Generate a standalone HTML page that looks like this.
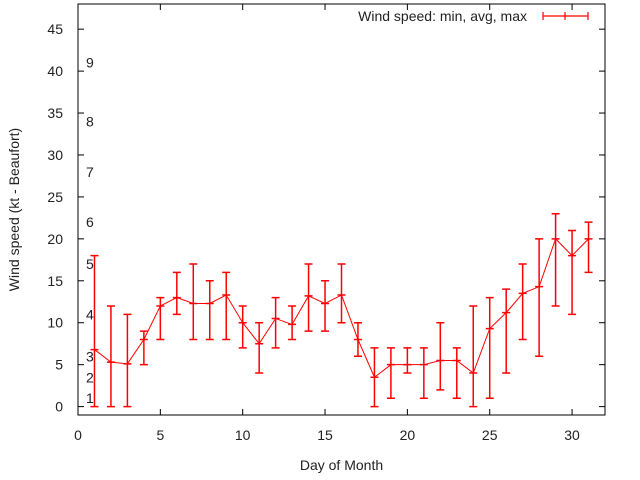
<!DOCTYPE html>
<html><head><meta charset="utf-8"><style>body{margin:0;background:#fff}svg{display:block;font-family:"Liberation Sans",sans-serif}</style></head>
<body>
<svg id="c" width="640" height="480" xmlns="http://www.w3.org/2000/svg"></svg>
<script>
const days=[1,2,3,4,5,6,7,8,9,10,11,12,13,14,15,16,17,18,19,20,21,22,23,24,25,26,27,28,29,30,31];
const avgs=[6.8,5.3,5.1,8,12,13,12.3,12.3,13.3,10,7.5,10.5,9.8,13.2,12.3,13.3,8,3.5,5,5,5,5.5,5.5,4,9.3,11.2,13.5,14.3,20,18,20];
const mins=[0,0,0,5,8,11,8,8,8,7,4,7,8,9,9,10,6,0,1,4,1,2,1,0,1,4,8,6,12,11,16];
const maxs=[18,12,11,9,13,16,17,15,16,12,10,13,12,17,15,17,10,7,7,7,7,10,7,12,13,14,17,20,23,21,22];
const yTicks=[0,5,10,15,20,25,30,35,40,45];
const xTicks=[0,5,10,15,20,25,30];
const beaufort=[1,2,3,4,5,6,7,8,9];
const beaufortKt=[1,3.5,6,11,17,22,28,34,41];
const L=78,R=605,T=4,B=415,x0=0,x1=32,y0=-1,y1=48;
const sx=v=>L+(v-x0)/(x1-x0)*(R-L), sy=v=>B-(v-y0)/(y1-y0)*(B-T);
const s=document.getElementById('c');const NS='http://www.w3.org/2000/svg';
function mk(t,a,p){const e=document.createElementNS(NS,t);for(const k in a)e.setAttribute(k,a[k]);(p||s).appendChild(e);return e;}
const frame=mk('rect',{x:L,y:T,width:R-L,height:B-T,fill:'none',stroke:'#000','stroke-width':1});


yTicks.forEach(v=>{const y=sy(v);
mk('line',{x1:L,x2:L+6,y1:y,y2:y,stroke:'#000'});mk('line',{x1:R,x2:R-6,y1:y,y2:y,stroke:'#000'});
const t=mk('text',{x:L-15,y:y+5,'text-anchor':'end','font-size':14,fill:'#222'});t.textContent=v;

});
xTicks.forEach(v=>{const x=sx(v);
mk('line',{x1:x,x2:x,y1:B,y2:B-6,stroke:'#000'});mk('line',{x1:x,x2:x,y1:T,y2:T+6,stroke:'#000'});
const t=mk('text',{x:x,y:B+25,'text-anchor':'middle','font-size':14,fill:'#222'});t.textContent=v;

});
beaufort.forEach((b,i)=>{const t=mk('text',{x:86,y:sy(beaufortKt[i])+5,'font-size':14,fill:'#222'});t.textContent=b;

});
const yt=mk('text',{x:19,y:(T+B)/2,'text-anchor':'middle','font-size':14,fill:'#222',transform:`rotate(-90 19 ${(T+B)/2})`});yt.textContent='Wind speed (kt - Beaufort)';


const xt=mk('text',{x:(L+R)/2,y:470,'text-anchor':'middle','font-size':14,fill:'#222'});xt.textContent='Day of Month';


const g=mk('g',{stroke:'#f00',fill:'none','stroke-width':1});


const pl=mk('polyline',{points:days.map((d,i)=>sx(d)+','+sy(avgs[i])).join(' ')},g);


days.forEach((d,i)=>{const x=sx(d);
const e=mk('path',{d:`M${x},${sy(mins[i])}V${sy(maxs[i])}M${x-4},${sy(mins[i])}h8M${x-4},${sy(maxs[i])}h8M${x-4},${sy(avgs[i])}h8`,'stroke-width':1.5},g);

});
const lt=mk('text',{x:527,y:21,'text-anchor':'end','font-size':14,fill:'#222'});lt.textContent='Wind speed: min, avg, max';


const ls=mk('path',{d:'M543,16H588M543,12V20M565,12V20M588,12V20',stroke:'#f00','stroke-width':1.2});


</script>
</body></html>
